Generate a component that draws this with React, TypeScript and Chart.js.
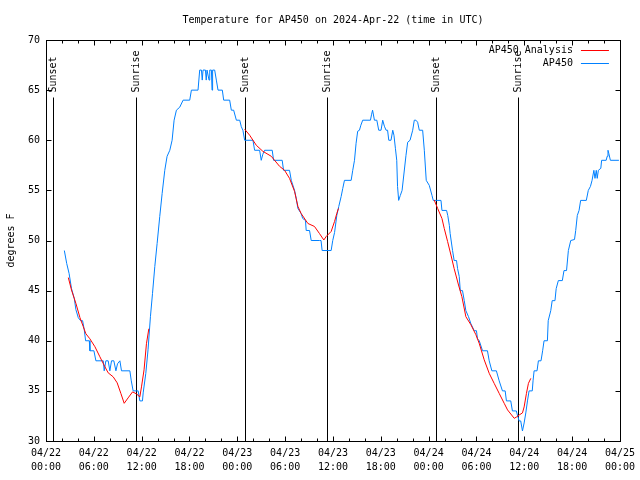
import React, { useEffect, useRef } from 'react';
import { Chart, registerables } from 'chart.js';

Chart.register(...registerables);

const TITLE = 'Temperature for AP450 on 2024-Apr-22 (time in UTC)';
const Y_TITLE = 'degrees F';
const FONT = '"DejaVu Sans Mono", "Liberation Mono", monospace';

const X_TICK_DATES = ['04/22', '04/22', '04/22', '04/22', '04/23', '04/23', '04/23', '04/23', '04/24', '04/24', '04/24', '04/24', '04/25'];
const X_TICK_TIMES = ['00:00', '06:00', '12:00', '18:00', '00:00', '06:00', '12:00', '18:00', '00:00', '06:00', '12:00', '18:00', '00:00'];
const X_MIN = 0;
const X_MAX = 72;
const X_MAJOR = 6;
const X_MINOR = 2;
const Y_MIN = 30;
const Y_MAX = 70;
const Y_STEP = 5;

const EVENT_HOURS = [0.92, 11.33, 24.95, 35.25, 48.88, 59.27];
const EVENT_LABELS = ['Sunset', 'Sunrise', 'Sunset', 'Sunrise', 'Sunset', 'Sunrise'];

const ANALYSIS_LABEL = 'AP450 Analysis';
const OBS_LABEL = 'AP450';
const ANALYSIS_COLOR = '#ff0000';
const OBS_COLOR = '#0080ff';

// hours since 04/22 00:00 UTC
const OBS_HOURS = [
  2.3, 2.6, 2.9, 3.2, 3.55, 3.75, 4.05, 4.34, 4.59, 4.8, 4.97, 5.43, 5.51, 6.01, 6.26, 7.18, 7.3, 7.51, 7.8, 8.01,
  8.22, 8.51, 8.77, 8.97, 9.27, 9.47, 10.52, 10.7, 10.93, 11.56, 11.77, 12.1, 12.19, 12.52, 12.8, 13.1, 13.36, 13.65, 13.94, 14.27,
  14.57, 14.9, 15.19, 15.53, 15.82, 16.07, 16.36, 16.78, 17.2, 18.03, 18.24, 19.07, 19.28, 19.5, 19.6, 19.7, 20.0, 20.1, 20.2, 20.45,
  20.54, 20.75, 20.83, 20.9, 21.16, 21.37, 21.58, 22.12, 22.29, 23.04, 23.25, 23.54, 23.88, 24.3, 24.5, 24.7, 24.92, 25.96, 26.17, 26.8,
  27.0, 27.2, 27.42, 28.38, 28.55, 29.63, 29.8, 30.55, 30.77, 31.18, 31.39, 31.6, 32.0, 32.2, 32.55, 32.64, 33.06, 33.27, 34.3, 34.5,
  34.64, 35.77, 35.97, 36.2, 36.48, 36.73, 37.03, 37.23, 37.44, 38.28, 38.48, 38.7, 38.9, 39.1, 39.32, 39.5, 39.73, 40.7, 40.85, 40.97,
  41.2, 41.5, 41.74, 42.03, 42.24, 42.45, 42.66, 42.85, 43.0, 43.28, 43.5, 43.65, 43.83, 44.0, 44.1, 44.24, 44.45, 44.67, 45.16, 45.37,
  45.67, 46.0, 46.2, 46.4, 46.62, 46.83, 47.25, 47.46, 47.7, 48.08, 48.42, 48.58, 49.55, 49.67, 50.25, 50.4, 50.6, 50.7, 51.0, 51.2,
  51.5, 51.63, 51.84, 51.97, 52.25, 52.47, 52.67, 53.0, 53.3, 53.72, 54.0, 54.13, 54.35, 54.76, 55.38, 55.6, 55.93, 56.5, 56.85, 57.26,
  57.6, 57.76, 58.3, 58.51, 59.0, 59.1, 59.35, 59.55, 59.77, 59.98, 60.19, 60.4, 60.6, 61.0, 61.1, 61.23, 61.6, 61.77, 62.1, 62.3,
  62.48, 62.9, 63.0, 63.32, 63.5, 63.85, 64.0, 64.27, 64.77, 64.98, 65.3, 65.53, 65.83, 66.3, 66.45, 66.65, 66.87, 67.07, 67.78, 68.03,
  68.3, 68.5, 68.73, 68.87, 69.03, 69.15, 69.29, 69.6, 69.7, 70.27, 70.4, 70.5, 70.6, 70.8, 71.87,
];
const OBS_TEMPS = [
  49, 47.7, 46.7, 45.2, 44.2, 43.1, 42.3, 42, 42, 41.1, 40, 40, 39, 39, 38, 38, 37, 38, 38, 37,
  38, 38, 37, 37.7, 38, 37, 37, 36, 35, 35, 34, 34, 34.8, 36.75, 39.1, 42.4, 44.7, 47.4, 49.7, 52.4,
  54.7, 57, 58.4, 59, 60, 62, 63, 63.3, 64, 64, 65, 65, 67, 67, 66, 67, 67, 66, 67, 66,
  67, 67, 65, 67, 67, 66, 65, 65, 64, 64, 63, 63, 62, 62, 61.35, 61, 60, 60, 59, 59,
  58, 58.6, 59, 59, 58, 58, 57, 57, 56, 55, 54.2, 53.2, 52.7, 52.2, 52, 51, 51, 50, 50, 50,
  49, 49, 50, 50.8, 52.5, 53.4, 54.4, 55.2, 56, 56, 57, 58, 59.7, 60.9, 61, 61.5, 62, 62, 62.6, 63,
  62, 62, 61, 61, 62, 61.4, 61, 61, 60, 60, 61, 60.5, 59.2, 58, 55.4, 54, 54.5, 55, 58.5, 59.8,
  60, 61, 62, 62, 61.8, 61, 61, 59, 56, 55.5, 54.5, 54, 54, 53, 53, 52.5, 51.5, 50.7, 49, 48,
  48, 47.2, 46.4, 45, 45, 44, 43, 42.4, 41.7, 41, 41, 40.2, 40, 39, 39, 38, 37, 37, 36, 35,
  35, 34, 34, 33, 33, 32.7, 32, 32, 31, 31.8, 32.8, 34, 35, 35, 36, 37, 37, 38, 38, 39,
  40, 40, 42, 43, 44, 44, 45.2, 46, 46, 47, 47, 49, 50, 50.1, 51, 52.5, 53, 54, 54, 55,
  55.4, 56, 57, 56.2, 57, 56.2, 57, 57.2, 58, 58, 58.4, 59, 58.7, 58, 58,
];

// null temperature = gap between analysis runs
const ANALYSIS_HOURS = [
  2.8, 3.2, 3.76, 4.26, 4.68, 5.0, 5.5, 6.14, 6.76, 7.39, 7.8, 8.43, 8.93, 9.39, 9.81, 10.3, 10.86, 11.35, 11.77, 11.98,
  12.3, 12.6, 12.9,
  18,
  24.92, 25.55, 26.38, 27.2, 28.26, 29.3, 29.93, 30.55, 31.18, 31.6, 32.0, 32.85, 33.68, 34.3, 34.85, 35.15, 35.77, 36.2, 36.48, 36.69,
  42,
  48.7, 49.13, 49.67, 49.96, 50.38, 50.8, 51.2, 51.75, 52.17, 52.67, 53.3, 53.93, 54.34, 54.97, 55.6, 56.22, 56.85, 57.48, 57.9, 58.74,
  59.03, 59.37, 59.77, 59.98, 60.27, 60.52, 60.82,
];
const ANALYSIS_TEMPS = [
  46.3, 45.06, 43.7, 42.3, 41.4, 40.7, 40.2, 39.4, 38.4, 37.4, 36.8, 36.4, 35.8, 34.75, 33.76, 34.3, 34.9, 34.7, 34.4, 35.4,
  37.1, 39.7, 41.2,
  null,
  61.1, 60.5, 59.5, 58.9, 58.4, 57.4, 57.0, 56.2, 54.9, 53.4, 52.7, 51.7, 51.4, 50.7, 50.05, 50.4, 50.9, 51.9, 52.7, 53.2,
  null,
  54.04, 53.2, 52.2, 51.2, 49.9, 48.55, 47.2, 45.56, 44.4, 42.4, 41.6, 40.6, 39.75, 38.1, 36.75, 35.75, 34.75, 33.76, 33.1, 32.26,
  32.4, 32.6, 32.8, 33.4, 34.75, 35.75, 36.25,
];

const gnuplotDecor = {
  id: 'gnuplotDecor',
  beforeDatasetsDraw(chart: any) {
    const { ctx, chartArea: a, scales } = chart;
    const xs = scales.x;
    const ys = scales.y;
    const L = Math.round(a.left) + 0.5;
    const R = Math.round(a.right) + 0.5;
    const T = Math.round(a.top) + 0.5;
    const B = Math.round(a.bottom) + 0.5;
    ctx.save();
    ctx.strokeStyle = '#000';
    ctx.lineWidth = 1;
    ctx.beginPath();
    for (let v = X_MIN; v <= X_MAX; v += X_MINOR) {
      const px = Math.round(xs.getPixelForValue(v)) + 0.5;
      const len = v % X_MAJOR === 0 ? 5 : 3;
      ctx.moveTo(px, B); ctx.lineTo(px, B - len);
      ctx.moveTo(px, T); ctx.lineTo(px, T + len);
    }
    for (let v = Y_MIN; v <= Y_MAX; v += Y_STEP) {
      const py = Math.round(ys.getPixelForValue(v)) + 0.5;
      ctx.moveTo(L, py); ctx.lineTo(L + 5, py);
      ctx.moveTo(R, py); ctx.lineTo(R - 5, py);
    }
    ctx.stroke();
    ctx.strokeRect(L, T, R - L, B - T);

    ctx.font = `10px ${FONT}`;
    ctx.fillStyle = '#000';
    EVENT_HOURS.forEach((h, i) => {
      const px = Math.round(xs.getPixelForValue(h)) + 0.5;
      ctx.beginPath();
      ctx.moveTo(px, B);
      ctx.lineTo(px, T + 57);
      ctx.stroke();
      ctx.save();
      ctx.translate(px, T + 52);
      ctx.rotate(-Math.PI / 2);
      ctx.textAlign = 'left';
      ctx.textBaseline = 'middle';
      ctx.fillText(EVENT_LABELS[i], 0, 0);
      ctx.restore();
    });
    ctx.restore();
  },
  afterDraw(chart: any) {
    const { ctx, chartArea: a } = chart;
    ctx.save();
    ctx.font = `10px ${FONT}`;
    ctx.fillStyle = '#000';
    ctx.textBaseline = 'middle';
    ctx.textAlign = 'center';
    ctx.fillText(TITLE, (a.left + a.right) / 2, 20);

    ctx.save();
    ctx.translate(11, (a.top + a.bottom) / 2);
    ctx.rotate(-Math.PI / 2);
    ctx.fillText(Y_TITLE, 0, 0);
    ctx.restore();

    chart.data.datasets.forEach((ds: any, i: number) => {
      const y = Math.round(a.top + 10 + i * 12.5) + 0.5;
      ctx.textAlign = 'right';
      ctx.fillStyle = '#000';
      ctx.fillText(ds.label, a.right - 47, y);
      ctx.strokeStyle = ds.borderColor;
      ctx.lineWidth = 1;
      ctx.beginPath();
      ctx.moveTo(a.right - 39, y);
      ctx.lineTo(a.right - 11, y);
      ctx.stroke();
    });
    ctx.restore();
  },
};

export default function App() {
  const ref = useRef<HTMLCanvasElement | null>(null);
  useEffect(() => {
    document.body.style.margin = '0';
    const canvas = ref.current;
    if (!canvas) return;
    const analysis = ANALYSIS_HOURS.map((h, i) => ({ x: h, y: ANALYSIS_TEMPS[i] }));
    const obs = OBS_HOURS.map((h, i) => ({ x: h, y: OBS_TEMPS[i] }));
    const chart = new Chart(canvas, {
      type: 'line',
      data: {
        datasets: [
          {
            label: ANALYSIS_LABEL,
            data: analysis as any,
            borderColor: ANALYSIS_COLOR,
            borderWidth: 1,
            pointRadius: 0,
            tension: 0,
            spanGaps: false,
            order: 0,
          },
          {
            label: OBS_LABEL,
            data: obs as any,
            borderColor: OBS_COLOR,
            borderWidth: 1,
            pointRadius: 0,
            tension: 0,
            order: 1,
          },
        ],
      },
      options: {
        responsive: false,
        animation: false,
        events: [],
        layout: { padding: { top: 40, right: 19, left: 0, bottom: 0 } },
        plugins: { legend: { display: false }, tooltip: { enabled: false }, title: { display: false } },
        scales: {
          x: {
            type: 'linear',
            min: X_MIN,
            max: X_MAX,
            grid: { display: false, drawTicks: false },
            border: { display: false },
            afterFit: (s: any) => { s.height = 39; },
            ticks: {
              stepSize: X_MAJOR,
              autoSkip: false,
              maxRotation: 0,
              minRotation: 0,
              padding: 5,
              color: '#000',
              font: { family: FONT, size: 10, lineHeight: 1.4 },
              callback: (v: any) => {
                const i = Math.round(Number(v) / X_MAJOR);
                return [X_TICK_DATES[i], X_TICK_TIMES[i]];
              },
            },
          },
          y: {
            type: 'linear',
            min: Y_MIN,
            max: Y_MAX,
            grid: { display: false, drawTicks: false },
            border: { display: false },
            afterFit: (s: any) => { s.width = 46; },
            ticks: {
              stepSize: Y_STEP,
              padding: 6,
              color: '#000',
              font: { family: FONT, size: 10 },
            },
          },
        },
      },
      plugins: [gnuplotDecor],
    });
    return () => chart.destroy();
  }, []);
  return (
    <div style={{ width: 640, height: 480 }}>
      <canvas ref={ref} width={640} height={480} style={{ display: 'block' }} />
    </div>
  );
}
